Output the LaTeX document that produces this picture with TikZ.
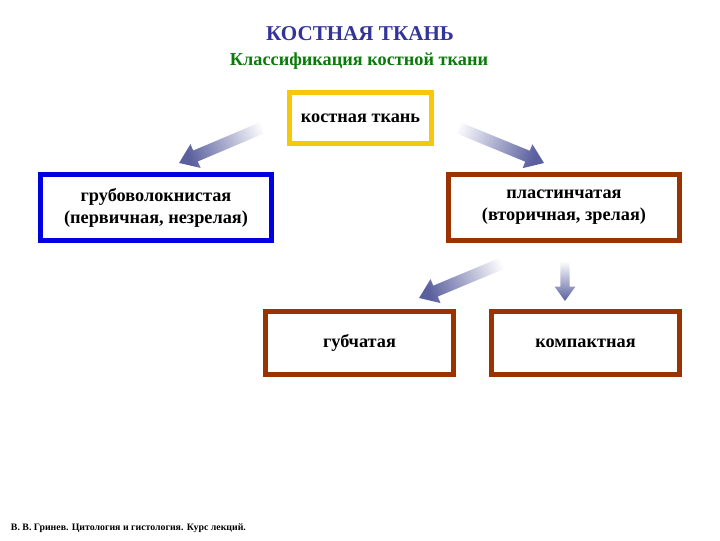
\documentclass[tikz,border=0pt]{standalone}
\usepackage{fontspec}
\setmainfont{Liberation Serif}
\usetikzlibrary{shapes}

\definecolor{titleblue}{HTML}{333399}
\definecolor{titlegreen}{HTML}{0A7A0A}
\definecolor{boxyellow}{HTML}{F5C80A}
\definecolor{boxblue}{HTML}{0000E0}
\definecolor{boxbrown}{HTML}{993300}
\definecolor{arrowblue}{HTML}{5A5F9E}

% thick shaded arrow from #2 (faded tail) to #3 (tip), #1 = width factor
\newcommand{\fatarrow}[3][1]{%
  \path (#2); \pgfgetlastxy{\xa}{\ya}
  \path (#3); \pgfgetlastxy{\xb}{\yb}
  \pgfmathsetmacro{\ang}{atan2(\yb-\ya,\xb-\xa)}
  \pgfmathsetmacro{\len}{veclen(\xb-\xa,\yb-\ya)}
  \pgfmathsetmacro{\neck}{\len-12.7*#1}
  \pgfmathsetmacro{\shaft}{4.2*#1}
  \pgfmathsetmacro{\head}{9.2*#1}
  \shade[top color=white, bottom color=arrowblue, shading angle=90+\ang,
         shift={(#2)}, rotate=\ang]
    (0pt,-\shaft pt) -- (\neck pt,-\shaft pt) -- (\neck pt,-\head pt) -- (\len pt,0pt)
    -- (\neck pt,\head pt) -- (\neck pt,\shaft pt) -- (0pt,\shaft pt) -- cycle;
}

\begin{document}
\begin{tikzpicture}[x=0.025cm, y=-0.025cm]
    \tikzstyle{box} = [draw, line width=3.5pt, inner sep=0pt, align=center,
                       font=\fontsize{13}{15.5}\selectfont\bfseries]
    \useasboundingbox (0,0) rectangle (720,540);
    \node (title) at (360,34) {\fontsize{15}{17}\selectfont\bfseries\color{titleblue}КОСТНАЯ ТКАНЬ};
    \node (sub) at (359,61) {\fontsize{13}{15}\selectfont\bfseries\color{titlegreen}Классификация костной ткани};
    \node (bone) [box, draw=boxyellow, minimum width=3.55cm, minimum height=1.275cm] at (360.5,118) {костная ткань};
    \node (coarse) [box, draw=boxblue, minimum width=5.775cm, minimum height=1.65cm] at (156,207.5) {грубоволокнистая\\(первичная, незрелая)};
    \node (lamel) [box, draw=boxbrown, minimum width=5.775cm, minimum height=1.65cm] at (564,207.5) {пластинчатая\\(вторичная, зрелая)};
    \node (spongy) [box, draw=boxbrown, minimum width=4.7cm, minimum height=1.575cm] at (359.5,343) {губчатая};
    \node (compact) [box, draw=boxbrown, minimum width=4.7cm, minimum height=1.575cm] at (585.5,343) {компактная};
    \node (credit) [anchor=west, font=\fontsize{7}{8}\selectfont\bfseries] at (6,528) {В. В. Гринев. Цитология и гистология. Курс лекций.};
    \coordinate (t1) at (271,124);
    \coordinate (h1) at (179,163);
    \coordinate (t2) at (449,124);
    \coordinate (h2) at (544,163);
    \coordinate (t3) at (510,260);
    \coordinate (h3) at (419,298);
    \coordinate (t4) at (565,261);
    \coordinate (h4) at (565,301);
      \fatarrow{t1}{h1}
      \fatarrow{t2}{h2}
      \fatarrow{t3}{h3}
      \fatarrow[0.8]{t4}{h4}
  \end{tikzpicture}
\end{document}
